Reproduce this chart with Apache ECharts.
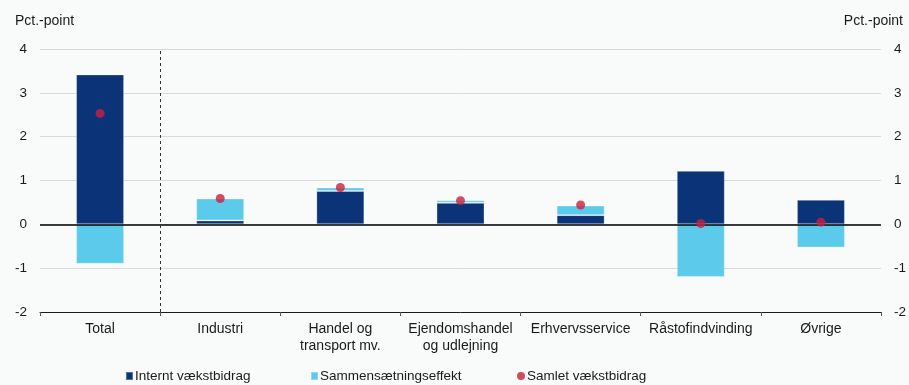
<!DOCTYPE html>
<html>
<head>
<meta charset="utf-8">
<script src="https://cdn.jsdelivr.net/npm/echarts@6/dist/echarts.min.js"></script>
<style>
html,body{margin:0;padding:0;background:#f9fafa;}
#c{width:909px;height:385px;}
</style>
</head>
<body>
<div id="c"></div>
<script>
const categories = ['Total', 'Industri', 'Handel og\ntransport mv.', 'Ejendomshandel\nog udlejning', 'Erhvervsservice', 'Råstofindvinding', 'Øvrige'];
const internt = [3.42, 0.09, 0.76, 0.49, 0.21, 1.22, 0.56];
const sammen = [-0.90, 0.50, 0.08, 0.06, 0.22, -1.20, -0.53];
const samlet = [2.53, 0.59, 0.84, 0.54, 0.44, 0.02, 0.05];
const yTicks = [-2, -1, 0, 1, 2, 3, 4];
const separatorAt = 1; // boundary between "Total" and the industries

const FONT = '"Liberation Sans", Arial, sans-serif';
const TXT = '#1a1a1a';
const chart = echarts.init(document.getElementById('c'), null, {renderer: 'canvas'});

const yAxisBase = {
  type: 'value', min: yTicks[0], max: yTicks[yTicks.length - 1], interval: 1,
  axisLine: {show: false}, axisTick: {show: false},
  axisLabel: {color: TXT, fontSize: 13.5, fontFamily: FONT, margin: 13},
  splitLine: {show: true, lineStyle: {color: '#d9d9d9', width: 1}}
};
const legendText = {fontSize: 13.5, color: TXT, fontFamily: FONT, padding: [0, 0, 0, -3]};

chart.setOption({
  backgroundColor: '#f9fafa',
  animation: false,
  textStyle: {fontFamily: FONT},
  title: [
    {text: 'Pct.-point', left: 15, top: 14, padding: 0, textStyle: {fontSize: 14, fontWeight: 'normal', color: TXT, fontFamily: FONT}},
    {text: 'Pct.-point', right: 6, top: 14, padding: 0, textStyle: {fontSize: 14, fontWeight: 'normal', color: TXT, fontFamily: FONT}}
  ],
  grid: {left: 40, right: 26, top: 49, bottom: 73, containLabel: false},
  legend: [
    {data: [{name: 'Internt vækstbidrag', icon: 'rect'}], left: 125, top: 369, padding: 0, itemWidth: 7, itemHeight: 8, textStyle: legendText},
    {data: [{name: 'Sammensætningseffekt', icon: 'rect'}], left: 310, top: 369, padding: 0, itemWidth: 7, itemHeight: 8, textStyle: legendText},
    {data: [{name: 'Samlet vækstbidrag', icon: 'circle'}], left: 517, top: 369, padding: 0, itemWidth: 8, itemHeight: 8, textStyle: legendText}
  ],
  xAxis: [
    {
      type: 'category', data: categories, boundaryGap: true, position: 'bottom',
      axisLine: {onZero: false, lineStyle: {color: '#1a1a1a', width: 1}},
      axisTick: {show: true, interval: 0, length: 4, lineStyle: {color: '#555'}},
      axisLabel: {interval: 0, color: TXT, fontSize: 14, fontFamily: FONT, margin: 9, lineHeight: 17},
      splitLine: {show: false}
    },
    {
      type: 'value', min: 0, max: categories.length, show: false, position: 'bottom'
    }
  ],
  yAxis: [
    Object.assign({}, yAxisBase, {position: 'left'}),
    Object.assign({}, yAxisBase, {position: 'right', splitLine: {show: false}})
  ],
  series: [
    {name: 'Internt vækstbidrag', type: 'bar', stack: 'a', data: internt, barWidth: 48,
     itemStyle: {color: '#0b3478', borderColor: 'rgba(255,255,255,0.3)', borderWidth: 1},
     markLine: {silent: true, symbol: 'none', label: {show: false},
       lineStyle: {color: '#000', width: 1.5, type: 'solid'}, data: [{yAxis: 0}]}},
    {name: 'Sammensætningseffekt', type: 'bar', stack: 'a', data: sammen, barWidth: 48,
     itemStyle: {color: '#5ccbeb', borderColor: 'rgba(255,255,255,0.3)', borderWidth: 1}},
    {name: 'Samlet vækstbidrag', type: 'scatter', data: samlet, symbol: 'circle', symbolSize: 9,
     itemStyle: {color: '#c8203f'}, z: 5},
    {name: 'separator', type: 'line', xAxisIndex: 1, yAxisIndex: 0, data: [],
     markLine: {silent: true, symbol: 'none', label: {show: false},
       lineStyle: {color: '#333', type: [3, 3], width: 1}, data: [{xAxis: separatorAt}]}}
  ]
});
</script>
</body>
</html>
